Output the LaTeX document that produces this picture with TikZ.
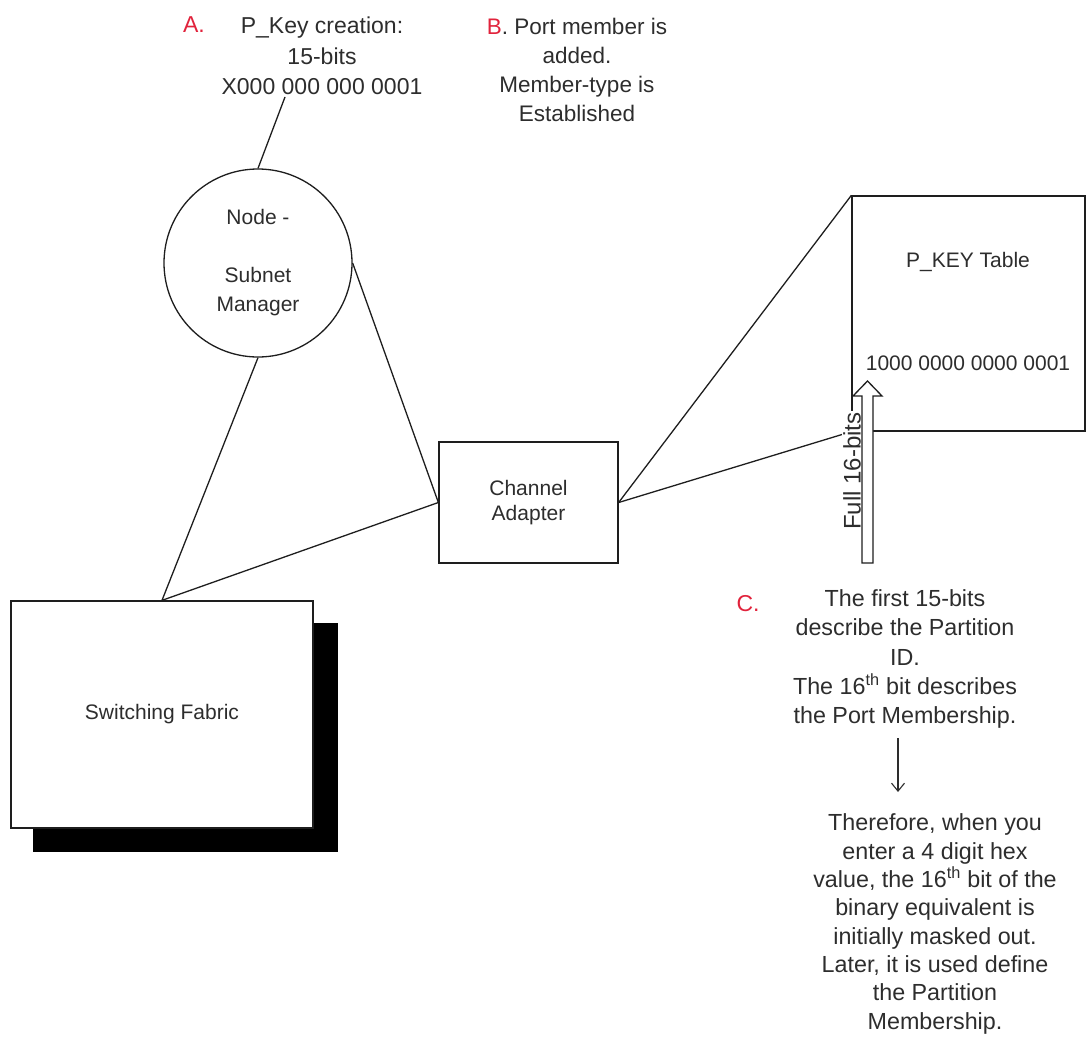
\documentclass[tikz,border=0pt]{standalone}
\usepackage{fontspec}
\setmainfont{Liberation Sans}
\usetikzlibrary{arrows.meta}
\definecolor{txt}{RGB}{45,45,45}
\definecolor{lbred}{RGB}{225,35,60}
\definecolor{ln}{RGB}{30,30,30}
\begin{document}
\begin{tikzpicture}[x=1pt,y=-1pt,
  conn/.style={draw=ln,line width=1.3pt},
  shapebox/.style={draw=ln,line width=1.3pt,fill=white,inner sep=0pt,text=txt,align=center,
    font=\fontsize{21}{25}\selectfont},
  lbl/.style={inner sep=0pt,text=txt,align=center,font=\fontsize{21}{25}\selectfont},
  note/.style={inner sep=0pt,text=txt,align=center},
  letter/.style={inner sep=0pt,text=lbred,font=\fontsize{23}{28}\selectfont}]
\useasboundingbox (0,0) rectangle (1086,1036);

% top notes
\node[letter] (la) at (194,25) {A.};
\node[note,font=\fontsize{23}{30.5}\selectfont] (ta) at (322,56)
  {P\_Key creation:\\15-bits\\X000 000 000 0001};
\coordinate (ta1) at (285,97);
\node[note,font=\fontsize{22.5}{29}\selectfont] (tb) at (577,70)
  {{\color{lbred}B}. Port member is\\added.\\Member-type is\\Established};

% switching fabric with shadow
\fill[black] (33,623) rectangle (338,852);
\node[shapebox,minimum width=302,minimum height=227] (sf) at (162,714.5) {Switching Fabric};

% subnet manager
\node[shapebox,circle,minimum size=188,font=\fontsize{21}{29}\selectfont] (sm) at (258,263)
  {Node -\\[29pt]Subnet\\Manager};

% channel adapter
\node[shapebox,minimum width=179,minimum height=121] (ca) at (528.5,502.5) {Channel\\Adapter};

% P_KEY table
\node[shapebox,minimum width=233,minimum height=235] (pk) at (968.5,313.5) {};
\node[lbl] (pkt) at (968,262) {P\_KEY Table};
\node[lbl] (pkv) at (968,363) {1000 0000 0000 0001};

% connectors
\draw[conn] (ta1) -- (sm.north);
\draw[conn] (sm.east) -- (ca.west);
\draw[conn] (sm.south) -- (sf.north);
\draw[conn] (sf.north) -- (ca.west);
\draw[conn] (ca.east) -- (pk.north west);
\draw[conn] (ca.east) -- (pk.south west);

% Full 16-bits label and hollow arrow
\node[lbl,fill=white,inner sep=1pt,rotate=90,font=\fontsize{24}{28}\selectfont] (fb) at (852,471) {Full 16-bits};
\draw[conn,fill=white] (862,563) -- (862,396) -- (853,396) -- (867.5,381) -- (882,396)
  -- (873,396) -- (873,563) -- cycle;

% C notes
\node[letter] (lc) at (748,604) {C.};
\node[note,font=\fontsize{23.3}{29.2}\selectfont] (tc) at (905,659)
  {The first 15-bits\\describe the Partition\\ID.\\The 16\textsuperscript{th} bit describes\\the Port Membership.};
\coordinate (d1) at (898,738);
\coordinate (d2) at (898,792);
\draw[draw=txt,line width=1.1pt,-{Straight Barb[length=8pt,width=13pt]}] (d1) -- (d2);
\node[note,font=\fontsize{23.3}{28.3}\selectfont] (td) at (935,924)
  {Therefore, when you\\enter a 4 digit hex\\value, the 16\textsuperscript{th} bit of the\\binary equivalent is\\initially masked out.\\Later, it is used define\\the Partition\\Membership.};
\end{tikzpicture}
\end{document}
